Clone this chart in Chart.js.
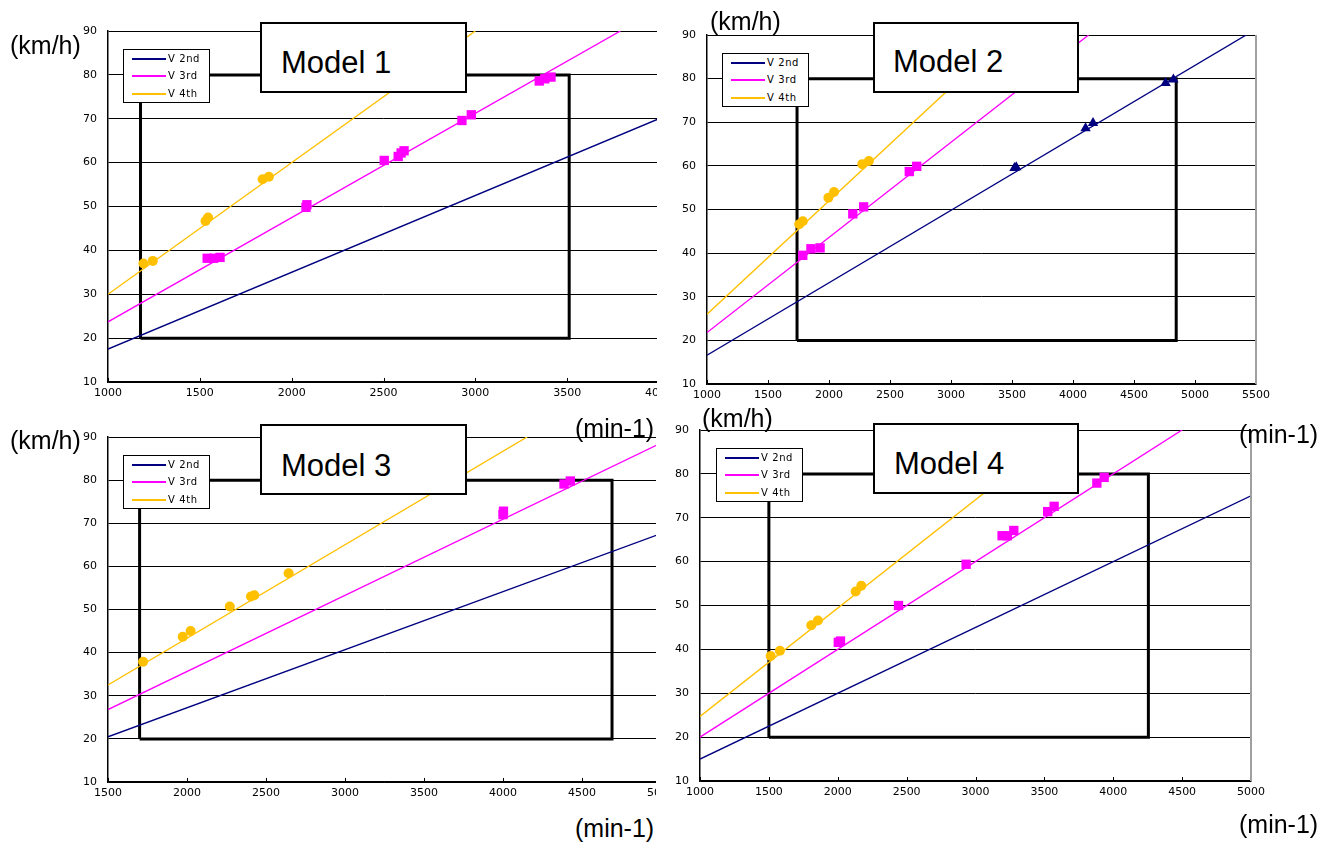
<!DOCTYPE html>
<html>
<head>
<meta charset="utf-8">
<script src="https://cdn.jsdelivr.net/npm/chart.js@4.4.1/dist/chart.umd.min.js"></script>
<style>
  html, body { margin: 0; padding: 0; background: #fff; }
  body { width: 1341px; height: 843px; position: relative; overflow: hidden; font-family: "Liberation Sans", Arial, sans-serif; }
  .panel { position: absolute; overflow: hidden; }
  .panel canvas { position: absolute; left: 0; top: 0; }
  .model { position: absolute; background: #fff; border: 2px solid #000; box-sizing: border-box; }
  .model span { position: absolute; font-size: 31px; line-height: 31px; color: #000; white-space: nowrap; }
  .legend { position: absolute; background: #fff; border: 1px solid #000; box-sizing: border-box; }
  .legend .row { position: absolute; left: 0; height: 14px; width: 100%; }
  .legend .sw { position: absolute; left: 8px; top: 6px; width: 34px; height: 2px; }
  .legend .tx { position: absolute; left: 44px; top: 0; font-family: "DejaVu Sans", sans-serif; font-size: 10px; letter-spacing: 0.6px; line-height: 14px; color: #000; white-space: nowrap; }
  .unit { position: absolute; font-size: 25px; line-height: 25px; color: #000; white-space: nowrap; }
</style>
</head>
<body>

<div class="panel" id="p1" style="left:0;top:0;width:657px;height:412px;"><canvas id="c1"></canvas></div>
<div class="panel" id="p2" style="left:660px;top:0;width:681px;height:412px;"><canvas id="c2"></canvas></div>
<div class="panel" id="p3" style="left:0;top:400px;width:656px;height:412px;"><canvas id="c3"></canvas></div>
<div class="panel" id="p4" style="left:660px;top:400px;width:681px;height:412px;"><canvas id="c4"></canvas></div>

<script>
// ---------- shared tick labels / axis ranges ----------
const yTickLabels = [10, 20, 30, 40, 50, 60, 70, 80, 90];
const seriesNames = ["V 2nd", "V 3rd", "V 4th"];
const modelNames = ["Model 1", "Model 2", "Model 3", "Model 4"];
const yUnit = "(km/h)";
const xUnit = "(min-1)";

const xRange1 = [1000, 4000];
const xRange2 = [1000, 5500];
const xRange3 = [1500, 5000];
const xRange4 = [1000, 5000];

// ---------- Model 1 ----------
const m1V2X = [1000, 4000], m1V2Y = [17.5, 70];
const m1V3X = [1000, 3790], m1V3Y = [23.7, 90];
const m1V4X = [1000, 3000], m1V4Y = [30, 90];
const m1P4X = [1193, 1244, 1531, 1545, 1842, 1876];
const m1P4Y = [37.0, 37.6, 46.7, 47.5, 56.2, 56.8];
const m1P3X = [1540, 1575, 1610, 2078, 2083, 2504, 2580, 2596, 2612, 2927, 2978, 3348, 3378, 3412];
const m1P3Y = [38.2, 38.2, 38.4, 49.8, 50.4, 60.5, 61.4, 62.2, 62.7, 69.6, 70.9, 78.6, 79.1, 79.5];
const m1P2X = [], m1P2Y = [];
const m1BoxX = [1177, 3511], m1BoxY = [20, 80];

// ---------- Model 2 ----------
const m2V2X = [1000, 5420], m2V2Y = [16.6, 90];
const m2V3X = [1000, 4128], m2V3Y = [21.8, 90];
const m2V4X = [1000, 3462], m2V4Y = [26, 90];
const m2P4X = [1756, 1785, 1995, 2041, 2273, 2327];
const m2P4Y = [46.6, 47.3, 52.7, 54.0, 60.4, 61.1];
const m2P3X = [1785, 1852, 1927, 2195, 2284, 2658, 2719];
const m2P3Y = [39.5, 41.0, 41.2, 49.0, 50.6, 58.7, 59.9];
const m2P2X = [3520, 3535, 4103, 4164, 4759, 4823];
const m2P2Y = [59.5, 59.7, 68.6, 69.8, 79.0, 79.8];
const m2BoxX = [1738, 4846], m2BoxY = [20, 80];

// ---------- Model 3 ----------
const m3V2X = [1500, 5000], m3V2Y = [20.5, 67.6];
const m3V3X = [1500, 5000], m3V3Y = [26.8, 88.6];
const m3V4X = [1500, 4153], m3V4Y = [32.5, 90];
const m3P4X = [1722, 1973, 2023, 2271, 2405, 2426, 2643];
const m3P4Y = [37.9, 43.7, 45.0, 50.7, 53.0, 53.3, 58.4];
const m3P3X = [4000, 4003, 4386, 4426];
const m3P3Y = [72.0, 72.8, 79.1, 79.8];
const m3P2X = [], m3P2Y = [];
const m3BoxX = [1700, 4690], m3BoxY = [20, 80];

// ---------- Model 4 ----------
const m4V2X = [1000, 5000], m4V2Y = [15, 75];
const m4V3X = [1000, 4500], m4V3Y = [20, 90];
const m4V4X = [1000, 3644], m4V4Y = [24.7, 90];
const m4P4X = [1513, 1580, 1808, 1856, 2130, 2171];
const m4P4Y = [38.5, 39.7, 45.5, 46.6, 53.2, 54.5];
const m4P3X = [2004, 2020, 2441, 2932, 3193, 3231, 3278, 3524, 3571, 3881, 3934];
const m4P3Y = [41.6, 41.9, 50.0, 59.4, 65.9, 65.9, 67.1, 71.4, 72.6, 77.9, 79.2];
const m4P2X = [], m4P2Y = [];
const m4BoxX = [1500, 4255], m4BoxY = [20, 80];

// ---------- styles ----------
const colV2 = "#000080", colV3 = "#FF00FF", colV4 = "#FFC000";

function pts(xs, ys) { return xs.map((x, i) => ({ x: x, y: ys[i] })); }
function boxPts(bx, by) {
  return [{x: bx[0], y: by[0]}, {x: bx[1], y: by[0]}, {x: bx[1], y: by[1]}, {x: bx[0], y: by[1]}, {x: bx[0], y: by[0]}];
}

const innerTicks = {
  id: 'innerTicks',
  afterDraw(chart, args, opts) {
    const ctx = chart.ctx, xs = chart.scales.x, ca = chart.chartArea;
    ctx.save();
    ctx.strokeStyle = '#000';
    ctx.lineWidth = 1;
    xs.ticks.forEach(t => {
      const px = Math.round(xs.getPixelForValue(t.value)) + 0.5;
      ctx.beginPath(); ctx.moveTo(px, ca.bottom); ctx.lineTo(px, ca.bottom - 4); ctx.stroke();
    });
    if (opts && opts.rightBorder) {
      ctx.strokeStyle = '#a0a0a0';
      ctx.lineWidth = 2;
      ctx.beginPath(); ctx.moveTo(ca.right, ca.top); ctx.lineTo(ca.right, ca.bottom); ctx.stroke();
    }
    ctx.restore();
  }
};

function makePanel(cfg) {
  const cv = document.getElementById(cfg.canvas);
  cv.width = cfg.W; cv.height = cfg.H;
  cv.style.width = cfg.W + 'px'; cv.style.height = cfg.H + 'px';
  const datasets = [
    { label: 'pts4', data: pts(cfg.p4x, cfg.p4y), showLine: false, pointStyle: 'circle', pointRadius: 5, backgroundColor: colV4, borderColor: colV4, borderWidth: 0, order: 0 },
    { label: 'pts3', data: pts(cfg.p3x, cfg.p3y), showLine: false, pointStyle: 'rect', pointRadius: 6.6, backgroundColor: colV3, borderColor: colV3, borderWidth: 0, order: 0 },
    { label: 'pts2', data: pts(cfg.p2x, cfg.p2y), showLine: false, pointStyle: 'triangle', pointRadius: 6, backgroundColor: colV2, borderColor: colV2, borderWidth: 0, order: 0 },
    { label: seriesNames[0], data: pts(cfg.v2x, cfg.v2y), showLine: true, pointRadius: 0, borderColor: colV2, borderWidth: 1.4, order: 1 },
    { label: seriesNames[1], data: pts(cfg.v3x, cfg.v3y), showLine: true, pointRadius: 0, borderColor: colV3, borderWidth: 1.4, order: 1 },
    { label: seriesNames[2], data: pts(cfg.v4x, cfg.v4y), showLine: true, pointRadius: 0, borderColor: colV4, borderWidth: 1.4, order: 1 },
    { label: 'range', data: boxPts(cfg.boxX, cfg.boxY), showLine: true, pointRadius: 0, borderColor: '#000', borderWidth: 3, order: 2 }
  ];
  const tickFont = { family: "DejaVu Sans", size: 11 };
  return new Chart(cv, {
    type: 'scatter',
    data: { datasets: datasets },
    options: {
      responsive: false, animation: false, devicePixelRatio: 1,
      events: [],
      layout: { padding: { left: 0, top: cfg.padT, right: cfg.padR, bottom: 0 } },
      plugins: { legend: { display: false }, tooltip: { enabled: false }, innerTicks: { rightBorder: cfg.rightBorder } },
      scales: {
        x: {
          type: 'linear', min: cfg.xr[0], max: cfg.xr[1],
          ticks: { stepSize: 500, autoSkip: false, maxRotation: 0, padding: 5, color: '#000', font: tickFont, callback: v => String(v) },
          grid: { display: false, drawTicks: false },
          border: { display: true, color: '#000', width: 1.5 },
          afterFit(s) { s.height = cfg.xH; s.paddingLeft = 0; s.paddingRight = 0; s.paddingTop = 0; s.paddingBottom = 0; }
        },
        y: {
          type: 'linear', min: yTickLabels[0], max: yTickLabels[yTickLabels.length - 1],
          afterBuildTicks(s) { s.ticks = yTickLabels.map(v => ({ value: v })); },
          ticks: { padding: 11, color: '#000', font: tickFont, callback: v => String(v) },
          grid: { color: '#000', lineWidth: 1, drawTicks: false },
          border: { display: true, color: '#000', width: 1.5 },
          afterFit(s) { s.width = cfg.yW; s.paddingLeft = 0; s.paddingRight = 0; s.paddingTop = 0; s.paddingBottom = 0; }
        }
      }
    },
    plugins: [innerTicks]
  });
}

makePanel({ canvas: 'c1', W: 700, H: 410, padT: 31, padR: 41, yW: 108, xH: 28, xr: xRange1, rightBorder: false,
  v2x: m1V2X, v2y: m1V2Y, v3x: m1V3X, v3y: m1V3Y, v4x: m1V4X, v4y: m1V4Y,
  p2x: m1P2X, p2y: m1P2Y, p3x: m1P3X, p3y: m1P3Y, p4x: m1P4X, p4y: m1P4Y, boxX: m1BoxX, boxY: m1BoxY });
makePanel({ canvas: 'c2', W: 640, H: 410, padT: 35, padR: 44, yW: 47, xH: 26, xr: xRange2, rightBorder: true,
  v2x: m2V2X, v2y: m2V2Y, v3x: m2V3X, v3y: m2V3Y, v4x: m2V4X, v4y: m2V4Y,
  p2x: m2P2X, p2y: m2P2Y, p3x: m2P3X, p3y: m2P3Y, p4x: m2P4X, p4y: m2P4Y, boxX: m2BoxX, boxY: m2BoxY });
makePanel({ canvas: 'c3', W: 700, H: 410, padT: 37, padR: 39, yW: 108, xH: 28, xr: xRange3, rightBorder: false,
  v2x: m3V2X, v2y: m3V2Y, v3x: m3V3X, v3y: m3V3Y, v4x: m3V4X, v4y: m3V4Y,
  p2x: m3P2X, p2y: m3P2Y, p3x: m3P3X, p3y: m3P3Y, p4x: m3P4X, p4y: m3P4Y, boxX: m3BoxX, boxY: m3BoxY });
makePanel({ canvas: 'c4', W: 640, H: 410, padT: 30, padR: 49, yW: 40, xH: 29, xr: xRange4, rightBorder: true,
  v2x: m4V2X, v2y: m4V2Y, v3x: m4V3X, v3y: m4V3Y, v4x: m4V4X, v4y: m4V4Y,
  p2x: m4P2X, p2y: m4P2Y, p3x: m4P3X, p3y: m4P3Y, p4x: m4P4X, p4y: m4P4Y, boxX: m4BoxX, boxY: m4BoxY });

// ---------- overlays: model boxes, legends, unit labels ----------
function addModel(name, left, top, w, h, textLeft, baseline) {
  const d = document.createElement('div');
  d.className = 'model';
  d.style.cssText = `left:${left}px;top:${top}px;width:${w}px;height:${h}px;`;
  const s = document.createElement('span');
  s.textContent = name;
  s.style.left = (textLeft - left - 2) + 'px';
  s.style.top = (baseline - 26.25 - top - 2) + 'px';
  d.appendChild(s);
  document.body.appendChild(d);
}
function addLegend(left, top) {
  const d = document.createElement('div');
  d.className = 'legend';
  d.style.cssText = `left:${left}px;top:${top}px;width:87px;height:54px;`;
  const cols = [colV2, colV3, colV4];
  const rowTops = [2, 19, 37];
  seriesNames.forEach((n, i) => {
    const r = document.createElement('div');
    r.className = 'row';
    r.style.top = rowTops[i] + 'px';
    r.innerHTML = `<div class="sw" style="background:${cols[i]}"></div><div class="tx">${n}</div>`;
    d.appendChild(r);
  });
  document.body.appendChild(d);
}
function addUnit(text, left, centerY) {
  const d = document.createElement('div');
  d.className = 'unit';
  d.textContent = text;
  d.style.left = left + 'px';
  d.style.top = (centerY - 12.5) + 'px';
  document.body.appendChild(d);
}

addModel(modelNames[0], 260, 22, 207, 71, 281, 73);
addModel(modelNames[1], 873, 22, 206, 71, 893, 72.7);
addModel(modelNames[2], 260, 424, 207, 71, 281, 476.5);
addModel(modelNames[3], 873, 423, 206, 71, 894, 474.5);

addLegend(123, 49);
addLegend(722, 53);
addLegend(123, 455);
addLegend(716, 448);

addUnit(yUnit, 10, 45);
addUnit(yUnit, 710, 21);
addUnit(yUnit, 10, 440);
addUnit(yUnit, 702, 418);
addUnit(xUnit, 575, 428);
addUnit(xUnit, 575, 828);
addUnit(xUnit, 1239, 434);
addUnit(xUnit, 1239, 824);
</script>
</body>
</html>
